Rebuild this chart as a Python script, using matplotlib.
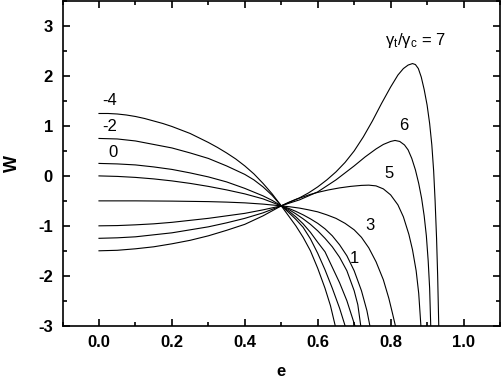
import matplotlib.pyplot as plt
from matplotlib.ticker import MultipleLocator

plt.rcParams['font.family'] = ['Liberation Sans', 'DejaVu Sans']

# curves, W(e) for each gamma_t/gamma_c
e_m4 = [0.0, 0.025, 0.05, 0.075, 0.1, 0.125, 0.15, 0.175, 0.2, 0.225, 0.25, 0.275, 0.3, 0.325,
        0.35, 0.375, 0.4, 0.425, 0.45, 0.475, 0.5, 0.52, 0.54, 0.56, 0.58, 0.6, 0.62, 0.64,
        0.66, 0.675, 0.68]
w_m4 = [1.25, 1.25, 1.24, 1.22, 1.19, 1.15, 1.10, 1.05, 0.99, 0.92, 0.85, 0.76, 0.67, 0.57,
        0.46, 0.34, 0.20, 0.04, -0.15, -0.36, -0.6, -0.73, -0.87, -1.03, -1.26, -1.55, -1.88, -2.25,
        -2.65, -3.0, -3.15]

e_m2 = [0.0, 0.05, 0.1, 0.15, 0.2, 0.25, 0.3, 0.35, 0.4, 0.425, 0.45, 0.475, 0.5, 0.52, 0.54,
        0.56, 0.58, 0.6, 0.62, 0.64, 0.66, 0.68, 0.702, 0.707]
w_m2 = [0.75, 0.74, 0.70, 0.63, 0.56, 0.46, 0.35, 0.20, 0.03, -0.08, -0.22, -0.39, -0.6, -0.7, -0.82,
        -0.96, -1.13, -1.33, -1.52, -1.83, -2.14, -2.5, -3.0, -3.15]

e_0 = [0.0, 0.05, 0.1, 0.15, 0.2, 0.25, 0.3, 0.35, 0.4, 0.45, 0.475, 0.5, 0.52, 0.54, 0.56, 0.58,
       0.6, 0.62, 0.64, 0.66, 0.68, 0.7, 0.71, 0.718, 0.722]
w_0 = [0.25, 0.24, 0.22, 0.18, 0.13, 0.06, -0.02, -0.12, -0.25, -0.40, -0.49, -0.6, -0.67, -0.76,
       -0.86, -0.97, -1.10, -1.25, -1.42, -1.63, -1.9, -2.3, -2.58, -3.0, -3.2]

e_1 = [0.0, 0.05, 0.1, 0.15, 0.2, 0.25, 0.3, 0.35, 0.4, 0.45, 0.5, 0.52, 0.54, 0.56, 0.58, 0.6,
       0.62, 0.64, 0.66, 0.68, 0.7, 0.72, 0.735, 0.743, 0.747]
w_1 = [0.0, -0.01, -0.03, -0.06, -0.10, -0.15, -0.21, -0.28, -0.36, -0.46, -0.6, -0.65, -0.71, -0.78,
       -0.86, -0.95, -1.06, -1.20, -1.38, -1.6, -1.9, -2.3, -2.7, -3.0, -3.2]

e_3 = [0.0, 0.1, 0.2, 0.3, 0.35, 0.4, 0.45, 0.5, 0.525, 0.55, 0.575, 0.6, 0.625, 0.65, 0.675, 0.7,
       0.72, 0.74, 0.76, 0.78, 0.795, 0.805, 0.813, 0.817]
w_3 = [-0.5, -0.5, -0.505, -0.515, -0.525, -0.54, -0.565, -0.6, -0.62, -0.645, -0.68, -0.72, -0.78,
       -0.85, -0.95, -1.08, -1.23, -1.44, -1.72, -2.08, -2.45, -2.75, -3.0, -3.15]

e_5 = [0.0, 0.05, 0.1, 0.15, 0.2, 0.25, 0.3, 0.35, 0.4, 0.45, 0.5, 0.52, 0.54, 0.56, 0.58, 0.6,
       0.63, 0.66, 0.69, 0.72, 0.74, 0.76, 0.78, 0.8, 0.82, 0.835, 0.85, 0.86, 0.87, 0.877, 0.883,
       0.886]
w_5 = [-1.0, -0.995, -0.98, -0.96, -0.93, -0.89, -0.85, -0.80, -0.75, -0.68, -0.6, -0.53, -0.47,
       -0.42, -0.37, -0.33, -0.28, -0.24, -0.21, -0.19, -0.185, -0.2, -0.26, -0.38, -0.58, -0.82,
       -1.17, -1.48, -1.9, -2.35, -3.0, -3.2]

e_6 = [0.0, 0.05, 0.1, 0.15, 0.2, 0.25, 0.3, 0.35, 0.4, 0.45, 0.5, 0.52, 0.55, 0.6, 0.65, 0.7,
       0.73, 0.76, 0.78, 0.8, 0.812, 0.825, 0.838, 0.848, 0.858, 0.868, 0.877, 0.885, 0.892, 0.898,
       0.903, 0.907, 0.91, 0.912]
w_6 = [-1.25, -1.24, -1.22, -1.18, -1.14, -1.08, -1.02, -0.94, -0.85, -0.74, -0.6, -0.55, -0.48,
       -0.32, -0.08, 0.20, 0.38, 0.54, 0.63, 0.69, 0.71, 0.69, 0.62, 0.52, 0.35, 0.12, -0.15, -0.45,
       -0.8, -1.2, -1.7, -2.25, -3.0, -3.2]

e_7 = [0.0, 0.05, 0.1, 0.15, 0.2, 0.25, 0.3, 0.35, 0.4, 0.45, 0.5, 0.525, 0.55, 0.575, 0.6, 0.625,
       0.65, 0.675, 0.7, 0.725, 0.75, 0.775, 0.8, 0.82, 0.835, 0.848, 0.86, 0.868, 0.876, 0.884,
       0.892, 0.9, 0.907, 0.913, 0.918, 0.922, 0.926, 0.929, 0.932, 0.934]
w_7 = [-1.5, -1.49, -1.46, -1.42, -1.36, -1.29, -1.20, -1.09, -0.97, -0.80, -0.6, -0.52, -0.44,
       -0.34, -0.22, -0.08, 0.08, 0.27, 0.50, 0.78, 1.10, 1.45, 1.78, 2.02, 2.15, 2.22, 2.25, 2.23,
       2.15, 1.98, 1.73, 1.42, 1.05, 0.62, 0.10, -0.5, -1.25, -2.0, -3.0, -3.2]

# extra steep branch leaving the crossing point
e_x = [0.5, 0.52, 0.54, 0.56, 0.58, 0.6, 0.62, 0.635, 0.648, 0.652]
w_x = [-0.6, -0.8, -1.0, -1.23, -1.5, -1.85, -2.25, -2.6, -3.0, -3.15]

curves = [(e_m4, w_m4), (e_m2, w_m2), (e_0, w_0), (e_1, w_1), (e_3, w_3),
          (e_5, w_5), (e_6, w_6), (e_7, w_7), (e_x, w_x)]

fig = plt.figure(figsize=(5.01, 3.82), dpi=100)
ax = fig.add_axes([0.1248, 0.1474, 0.8732, 0.8496])

for ex, wy in curves:
    ax.plot(ex, wy, color='black', lw=0.8)

ax.set_xlim(-0.1, 1.1)
ax.set_ylim(-3, 3.5)
ax.xaxis.set_minor_locator(MultipleLocator(0.1))
ax.yaxis.set_minor_locator(MultipleLocator(0.5))
ax.set_xticks([0.0, 0.2, 0.4, 0.6, 0.8, 1.0])
ax.set_xticklabels(['0.0', '0.2', '0.4', '0.6', '0.8', '1.0'])
ax.set_yticks([-3, -2, -1, 0, 1, 2, 3])
ax.set_yticklabels(['-3', '-2', '-1', '0', '1', '2', '3'])

ax.tick_params(which='both', direction='in', top=True, right=True, width=1.2)
ax.tick_params(which='major', length=5, labelsize=12, pad=7)
ax.tick_params(which='minor', length=3)
for lab in ax.get_xticklabels() + ax.get_yticklabels():
    lab.set_fontweight('bold')
for sp in ax.spines.values():
    sp.set_linewidth(1.2)

ax.set_xlabel('e', fontsize=12, fontweight='bold', labelpad=10)
ax.set_ylabel('W', fontsize=13, fontweight='bold', labelpad=12)

# curve labels
ax.text(0.03, 1.51, '-4', fontsize=12, ha='center', va='center')
ax.text(0.03, 0.98, '-2', fontsize=12, ha='center', va='center')
ax.text(0.038, 0.46, '0', fontsize=12, ha='center', va='center')
ax.text(0.867, 2.71, r'$\mathregular{\gamma_t/\gamma_c}$ = 7', fontsize=12, ha='center', va='center')
ax.text(0.836, 1.01, '6', fontsize=12, ha='center', va='center')
ax.text(0.796, 0.05, '5', fontsize=12, ha='center', va='center')
ax.text(0.743, -0.99, '3', fontsize=12, ha='center', va='center')
ax.text(0.70, -1.65, '1', fontsize=12, ha='center', va='center')

plt.savefig('out.png', dpi=100)
plt.close()
